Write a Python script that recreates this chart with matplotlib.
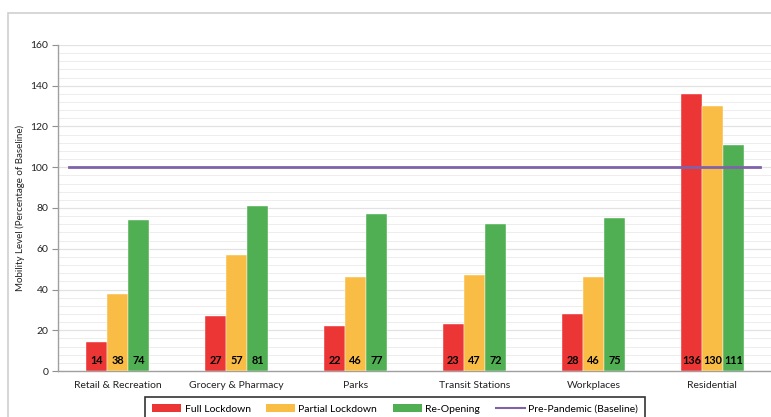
import matplotlib.pyplot as plt
import numpy as np
from matplotlib.patches import Rectangle, Patch
from matplotlib.lines import Line2D
from matplotlib.ticker import MultipleLocator

plt.rcParams['font.family'] = ['Lato', 'DejaVu Sans']

categories = ['Retail & Recreation', 'Grocery & Pharmacy', 'Parks',
              'Transit Stations', 'Workplaces', 'Residential']
full_lockdown = [14, 27, 22, 23, 28, 136]
partial_lockdown = [38, 57, 46, 47, 46, 130]
re_opening = [74, 81, 77, 72, 75, 111]
baseline = 100

series = [('Full Lockdown', full_lockdown, '#EC3535'),
          ('Partial Lockdown', partial_lockdown, '#F9BD45'),
          ('Re-Opening', re_opening, '#4FAF52')]
line_color = '#8062AA'

fig = plt.figure(figsize=(7.71, 4.17), dpi=100)
ax = fig.add_axes([0.0752, 0.1103, 0.926, 0.7818])

x = np.arange(len(categories))
w = 0.177
for i, (name, vals, col) in enumerate(series):
    pos = x + (i - 1) * w
    ax.bar(pos, vals, width=w, color=col, edgecolor='white', linewidth=0.3, zorder=3)
    for p, v in zip(pos, vals):
        ax.text(p, 5, str(v), ha='center', va='center', fontsize=7.8,
                fontweight='bold', color='black', zorder=4)

ax.axhline(baseline, xmin=0.0154, xmax=0.983, color=line_color, lw=2, zorder=5)

ax.set_xlim(-0.5, len(categories) - 0.5)
ax.set_ylim(0, 160)
ax.yaxis.set_major_locator(MultipleLocator(20))
ax.yaxis.set_minor_locator(MultipleLocator(4))
ax.grid(axis='y', which='major', color='#E2E2E2', lw=0.9, zorder=0)
ax.grid(axis='y', which='minor', color='#EDEDED', lw=0.7, zorder=0)
ax.set_axisbelow(True)

ax.set_xticks(x)
ax.set_xticklabels(categories, fontsize=7.5, color='#222222')
ax.tick_params(axis='x', length=0, pad=7)
ax.tick_params(axis='y', which='major', length=4, color='#909090', labelsize=7.5,
               labelcolor='#222222', pad=3)
ax.tick_params(axis='y', which='minor', length=0)
for s in ['top', 'right']:
    ax.spines[s].set_visible(False)
for s in ['left', 'bottom']:
    ax.spines[s].set_color('#A0A0A0')
    ax.spines[s].set_linewidth(1)

fig.text(20 / 771, 1 - 208 / 417, 'Mobility Level (Percentage of Baseline)',
         rotation=90, ha='center', va='center', fontsize=7, color='#222222')

handles = [Patch(facecolor=c, edgecolor='none') for _, _, c in series]
handles.append(Line2D([], [], color=line_color, lw=1.5))
labels = [n for n, _, _ in series] + ['Pre-Pandemic (Baseline)']
leg = fig.legend(handles, labels, loc='upper center', ncol=4,
                 bbox_to_anchor=(395 / 771, 1 - 397 / 417), fontsize=7.5,
                 frameon=True, fancybox=False, edgecolor='black',
                 handlelength=2.8, handleheight=0.8, columnspacing=1.5,
                 handletextpad=0.3, borderpad=0.7, borderaxespad=0)
leg.get_frame().set_linewidth(1.2)

fig.add_artist(Rectangle((8 / 771, -0.1), 1.0, 0.969 + 0.1, transform=fig.transFigure,
                         fill=False, edgecolor='#CFCFCF', lw=1.2))

fig.savefig('out.png', dpi=100)
